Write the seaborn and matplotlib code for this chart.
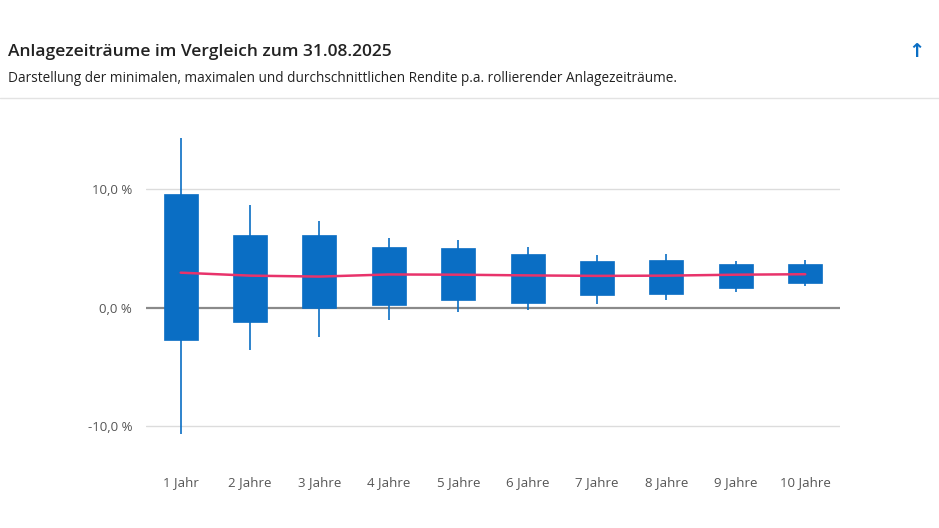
import numpy as np
import pandas as pd
import seaborn as sns
from matplotlib import pyplot as plt

# values (rolling p.a. returns, %)
periods = ['1 Jahr', '2 Jahre', '3 Jahre', '4 Jahre', '5 Jahre',
           '6 Jahre', '7 Jahre', '8 Jahre', '9 Jahre', '10 Jahre']
whisker_high = [14.3, 8.7, 7.3, 5.9, 5.7, 5.1, 4.4, 4.5, 3.9, 4.0]
box_high = [9.6, 6.1, 6.1, 5.15, 5.05, 4.55, 3.9, 4.0, 3.65, 3.7]
box_low = [-2.7, -1.25, 0.0, 0.25, 0.65, 0.35, 1.05, 1.15, 1.65, 2.05]
whisker_low = [-10.7, -3.6, -2.5, -1.05, -0.4, -0.2, 0.3, 0.65, 1.35, 1.85]
average = [2.95, 2.7, 2.62, 2.8, 2.78, 2.72, 2.68, 2.7, 2.78, 2.82]

blue = '#0a6ec4'
pink = '#e8336b'

sns.set_theme(style='white')
plt.rcParams['font.family'] = ['Open Sans', 'DejaVu Sans']

df = pd.DataFrame({'period': periods, 'pos': np.arange(len(periods)),
                   'avg': average})

fig = plt.figure(figsize=(9.39, 5.28), dpi=100)
ax = fig.add_axes([0.1555, 0.157, 0.739, 0.606])

#whiskers first so the boxes sit on top
ax.vlines(df['pos'], whisker_low, whisker_high, color=blue, lw=1.2, zorder=2)
ax.bar(df['pos'], np.array(box_high) - np.array(box_low), bottom=box_low,
       width=0.49, color=blue, edgecolor=blue, linewidth=0.5, zorder=3)
sns.lineplot(data=df, x='pos', y='avg', color=pink, lw=1.8, ax=ax, zorder=4)

ax.set_xlim(-0.5, 9.5)
ax.set_ylim(-11.6, 15.4)
ax.set_yticks([-10, 0, 10])
ax.set_yticklabels(['-10,0 %', '0,0 %', '10,0 %'], color='#555555', fontsize=9.5)
ax.set_xticks(df['pos'])
ax.set_xticklabels(periods, color='#555555', fontsize=9.5)
ax.tick_params(axis='x', pad=22, length=0)
ax.tick_params(axis='y', pad=10, length=0)
for v in [-10, 10]:
    ax.axhline(v, color='#dcdcdc', lw=1, zorder=1)
ax.axhline(0, color='#8a8a8a', lw=1.6, zorder=1)
ax.set_xlabel('')
ax.set_ylabel('')
sns.despine(ax=ax, left=True, bottom=True)

fig.text(0.0085, 0.901, 'Anlagezeiträume im Vergleich zum 31.08.2025',
         fontsize=12.5, fontweight='semibold', color='#222222', va='center')
fig.text(0.0085, 0.852, 'Darstellung der minimalen, maximalen und durchschnittlichen '
         'Rendite p.a. rollierender Anlagezeiträume.',
         fontsize=9.8, color='#222222', va='center')
fig.text(0.976, 0.903, '↑', fontsize=14, fontweight='bold', color='#0a6ec4',
         ha='center', va='center', family=['DejaVu Sans'])
fig.add_artist(plt.Line2D([0, 1], [0.815, 0.815], color='#e3e3e3', lw=1))

fig.savefig('out.png', dpi=100)
